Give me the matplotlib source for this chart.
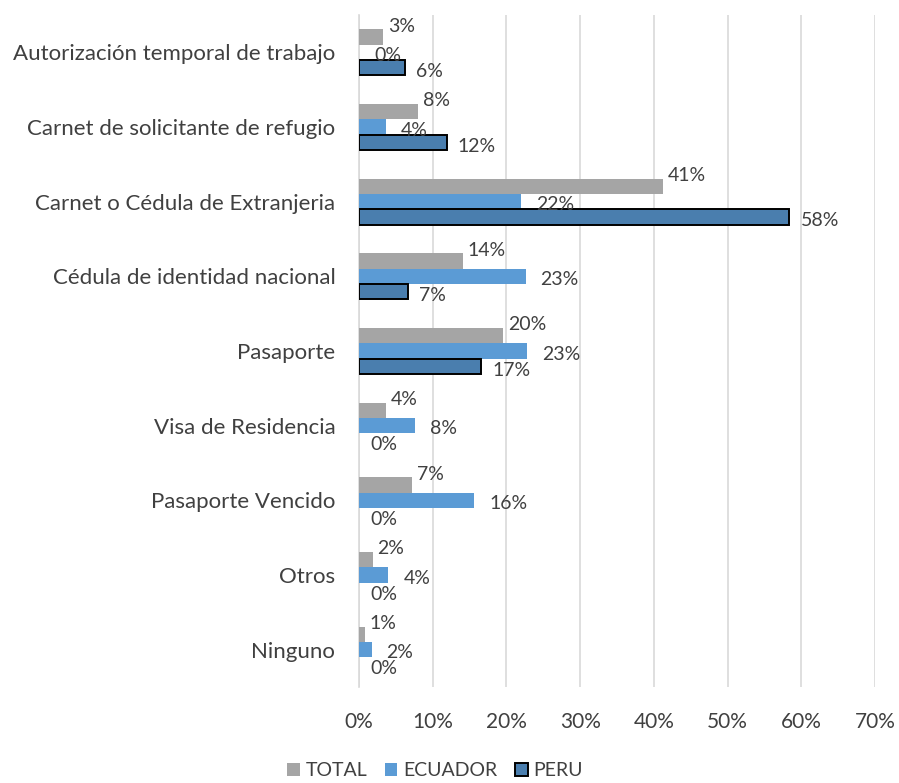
import matplotlib
matplotlib.use("Agg")
import matplotlib.pyplot as plt
import numpy as np
from matplotlib.patches import Patch

categories = ["Autorización temporal de trabajo", "Carnet de solicitante de refugio",
              "Carnet o Cédula de Extranjeria", "Cédula de identidad nacional",
              "Pasaporte", "Visa de Residencia", "Pasaporte Vencido", "Otros", "Ninguno"]
total = [3.3, 7.95, 41.2, 14.1, 19.6, 3.6, 7.2, 1.85, 0.8]
ecuador = [0.0, 3.6, 22.0, 22.6, 22.8, 7.6, 15.6, 4.0, 1.7]
peru = [6.3, 11.9, 58.4, 6.7, 16.6, 0.0, 0.0, 0.0, 0.0]
series_names = ["TOTAL", "ECUADOR", "PERU"]
xticks = [0, 10, 20, 30, 40, 50, 60, 70]

plt.rcParams['font.family'] = ['Lato', 'DejaVu Sans']
txt = '#404040'

fig = plt.figure(figsize=(8.99, 7.83), dpi=100)
ax = fig.add_axes([0.3993, 0.1226, 0.5740, 0.8582])

n = len(categories)
y = np.arange(n)
h = 0.205
colors = ['#A5A5A5', '#5B9BD5', '#4A7EAE']
edges = ['none', 'none', 'black']
lws = [0, 0, 1.4]
offs = [-h, 0, h]
lab_dx = [5, 15, 11]
lab_dy = [11, -3, -4]
for vals, c, e, lw, o, dx, dy in zip([total, ecuador, peru], colors, edges, lws, offs, lab_dx, lab_dy):
    bars = ax.barh(y + o, vals, height=h, color=c, edgecolor=e,
                   linewidth=[lw if v > 0 else 0 for v in vals], zorder=3)
    for b, v in zip(bars, vals):
        ax.annotate(f"{v:.0f}%", (b.get_width(), b.get_y() + b.get_height() / 2),
                    xytext=(dx, dy), textcoords='offset pixels', ha='left', va='center',
                    fontsize=14, color=txt, zorder=5)

ax.set_ylim(n - 0.5, -0.5)
ax.set_xlim(0, 70)
ax.set_xticks(xticks)
ax.set_xticklabels([f"{t}%" for t in xticks], fontsize=15, color=txt)
ax.set_yticks(y)
ax.set_yticklabels(categories, fontsize=16, color=txt)
ax.tick_params(axis='both', length=0)
ax.tick_params(axis='x', pad=18)
ax.tick_params(axis='y', pad=17)
ax.grid(axis='x', color='#D9D9D9', linewidth=1.2, zorder=0)
for s in ['top', 'right', 'bottom']:
    ax.spines[s].set_visible(False)
ax.spines['left'].set_color('#D9D9D9')
ax.spines['left'].set_linewidth(1.2)

handles = [Patch(facecolor=c, edgecolor=e, linewidth=lw) for c, e, lw in zip(colors, edges, [0, 0, 1.4])]
fig.legend(handles, series_names, loc='center', bbox_to_anchor=(435 / 899, 1 - 771 / 783),
           ncol=3, frameon=False, fontsize=14, handlelength=0.65, handleheight=0.65,
           handletextpad=0.3, columnspacing=0.9, labelcolor=txt)

fig.savefig("out.png", dpi=100, facecolor='white')
